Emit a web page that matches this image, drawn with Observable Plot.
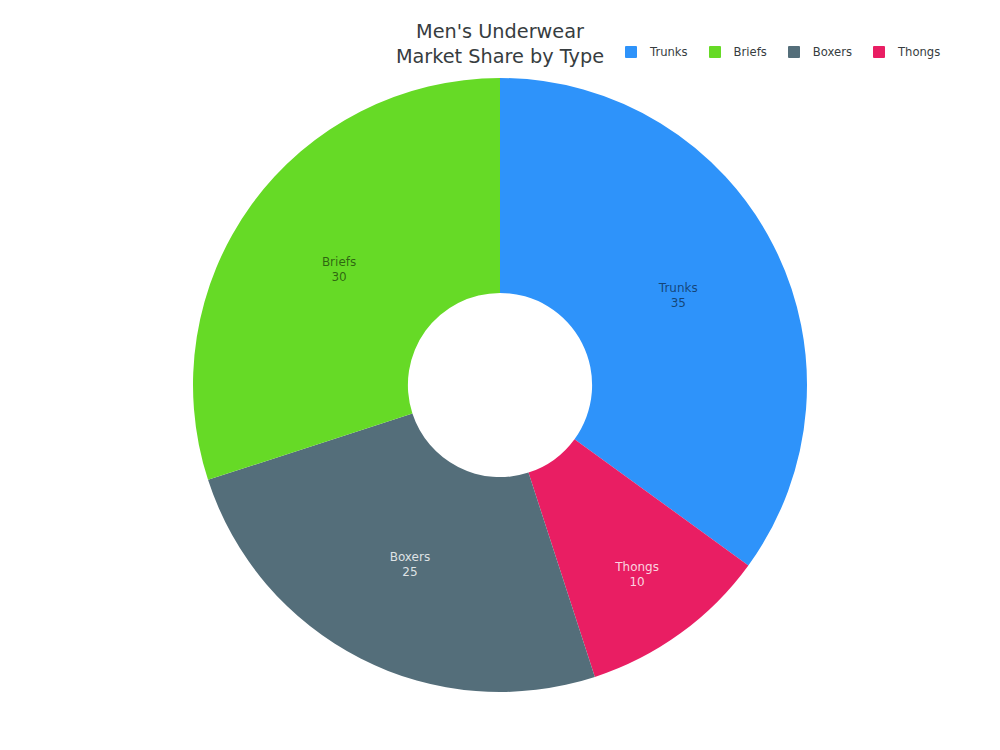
<!DOCTYPE html>
<html>
<head>
<meta charset="utf-8">
<script src="https://cdn.jsdelivr.net/npm/d3@7"></script>
<script src="https://cdn.jsdelivr.net/npm/@observablehq/plot@0.6"></script>
<style>
  html, body { margin: 0; padding: 0; background: #fff; }
  body { width: 1000px; height: 750px; font-family: "DejaVu Sans", sans-serif; overflow: hidden; }
  #header { position: relative; height: 70px; }
  #title { position: absolute; left: 0; width: 1000px; top: 19px; text-align: center; font-size: 19.3px; line-height: 25px; color: #373d3f; }
  #legend { position: absolute; left: 625px; top: 45px; display: flex; align-items: center; font-size: 11.6px; color: #373d3f; }
  .item { display: flex; align-items: center; margin-right: 21px; }
  .sw { width: 12px; height: 12px; margin-right: 13px; border-radius: 1px; }
</style>
</head>
<body>
<div id="header">
  <div id="title">Men's Underwear<br>Market Share by Type</div>
  <div id="legend"></div>
</div>
<div id="chart"></div>
<script>
// Data
const categories = ["Trunks", "Briefs", "Boxers", "Thongs"];
const values = [35, 30, 25, 10];
const colors = ["#2E93FA", "#66DA26", "#546E7A", "#E91E63"];
// clockwise drawing order from 12 o'clock
const sliceOrder = ["Trunks", "Thongs", "Boxers", "Briefs"];

const innerFrac = 0.30;

const data = sliceOrder.map(name => ({ name, value: values[categories.indexOf(name)] }));
const pie = d3.pie().sort(null).value(d => d.value)(data);
const slices = pie.map(p => {
  const mid = (p.startAngle + p.endAngle) / 2;
  // small slices get their label pushed outward
  const r = p.data.value < 15 ? 0.757 : (innerFrac + 1) / 2;
  return {
    name: p.data.name,
    value: p.data.value,
    startAngle: p.startAngle,
    endAngle: p.endAngle,
    lx: r * Math.sin(mid),
    ly: r * Math.cos(mid),
    dark: (p.data.name === "Trunks" || p.data.name === "Briefs")
  };
});

const color = { domain: categories, range: colors };

// custom arc mark rendered through Plot's x/y/color scales
function arcs(index, scales) {
  const cx = scales.x(0), cy = scales.y(0);
  const R = scales.x(1) - scales.x(0);
  const arc = d3.arc().innerRadius(R * innerFrac).outerRadius(R);
  const g = d3.create("svg:g");
  g.selectAll("path").data(slices).join("path")
    .attr("transform", `translate(${cx},${cy})`)
    .attr("d", d => arc(d))
    .attr("fill", d => scales.color(d.name));
  return g.node();
}

const plot = Plot.plot({
  width: 1000,
  height: 680,
  margin: 0,
  x: { domain: [-1, 1], range: [500 - 307, 500 + 307], axis: null },
  y: { domain: [-1, 1], range: [315 + 307, 315 - 307], axis: null },
  color,
  style: { fontFamily: "DejaVu Sans, sans-serif", background: "#fff" },
  marks: [
    arcs,
    Plot.text(slices, {
      x: "lx", y: "ly",
      text: d => `${d.name}\n${d.value}`,
      fontSize: 12,
      lineHeight: 1.25,
      fill: d => d.dark ? "#000" : "#fff",
      fillOpacity: d => d.dark ? 0.55 : 0.82
    })
  ]
});
document.getElementById("chart").appendChild(plot);

// Legend
const leg = d3.select("#legend");
categories.forEach((c, i) => {
  const it = leg.append("div").attr("class", "item");
  it.append("div").attr("class", "sw").style("background", colors[i]);
  it.append("span").text(c);
});
</script>
</body>
</html>
